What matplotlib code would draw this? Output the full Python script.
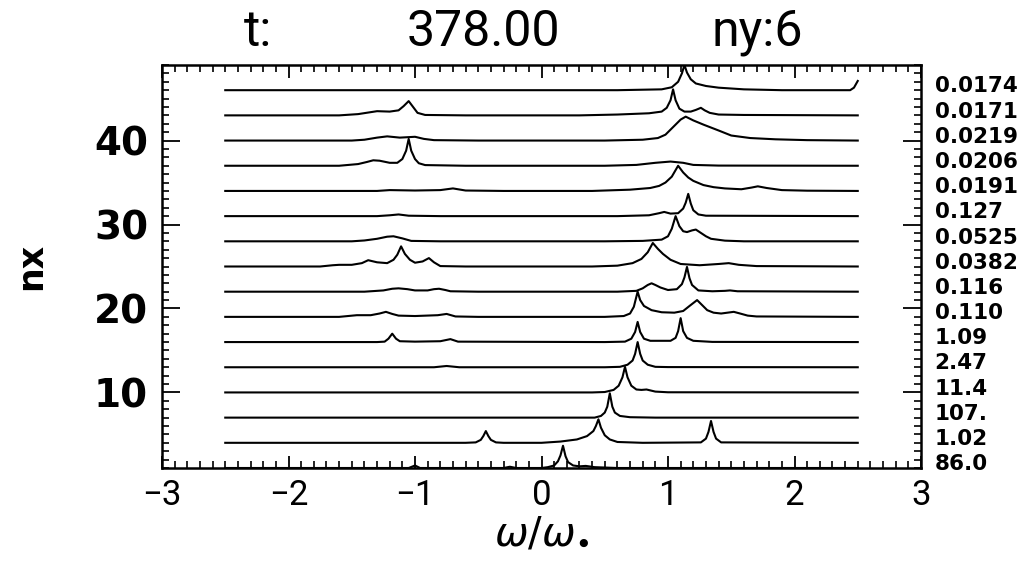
import matplotlib
matplotlib.use("Agg")
import matplotlib.pyplot as plt
from matplotlib.transforms import blended_transform_factory
from matplotlib.ticker import MultipleLocator

# ---------------- data ----------------
# baseline level (nx) of every trace, bottom to top
nx_levels = [1, 4, 7, 10, 13, 16, 19, 22, 25, 28, 31, 34, 37, 40, 43, 46]
# normalisation label printed right of every trace (same order)
trace_labels = ["86.0", "1.02", "107.", "11.4", "2.47", "1.09", "0.110", "0.116",
                "0.0382", "0.0525", "0.127", "0.0191", "0.0206", "0.0219", "0.0171", "0.0174"]

# each trace: (omega/omega0, height above its baseline in nx units)
trace_nx1 = [(-2.5, 0), (-1.05, 0), (-1.0, 0.3), (-0.96, 0), (-0.3, 0), (-0.25, 0.15), (-0.2, 0),
             (0.0, 0), (0.05, 0.1), (0.1, 0.3), (0.13, 0.8), (0.15, 1.5), (0.17, 2.65),
             (0.19, 1.4), (0.21, 0.7), (0.25, 0.3), (0.3, 0.2), (0.35, 0.25), (0.42, 0.1),
             (0.6, 0), (2.5, 0)]
trace_nx4 = [(-2.5, 0), (-0.6, 0), (-0.52, 0.05), (-0.48, 0.35), (-0.46, 0.8), (-0.44, 1.4),
             (-0.42, 0.8), (-0.4, 0.35), (-0.36, 0.05), (-0.3, 0), (0.0, 0), (0.15, 0.15),
             (0.28, 0.4), (0.36, 0.8), (0.41, 1.4), (0.43, 2.0), (0.45, 2.8), (0.47, 1.8),
             (0.5, 0.9), (0.54, 0.4), (0.6, 0.1), (0.8, 0), (1.26, 0.05), (1.3, 0.5),
             (1.32, 1.3), (1.34, 2.6), (1.36, 1.3), (1.38, 0.5), (1.42, 0.05), (2.5, 0)]
trace_nx7 = [(-2.5, 0), (0.42, 0), (0.47, 0.2), (0.5, 0.6), (0.52, 1.3), (0.54, 2.9), (0.56, 1.3),
             (0.58, 0.6), (0.62, 0.2), (0.7, 0.05), (0.9, 0), (2.5, 0)]
trace_nx10 = [(-2.5, 0), (0.4, 0), (0.5, 0.05), (0.57, 0.3), (0.61, 0.8), (0.64, 1.8),
              (0.66, 3.05), (0.68, 1.8), (0.71, 0.8), (0.75, 0.35), (0.79, 0.3), (0.83, 0.35),
              (0.9, 0.1), (1.0, 0.02), (2.5, 0)]
trace_nx13 = [(-2.5, 0), (-0.85, 0), (-0.75, 0.15), (-0.65, 0), (0.5, 0), (0.62, 0.05),
              (0.68, 0.3), (0.72, 0.8), (0.74, 1.6), (0.76, 3.0), (0.78, 1.6), (0.8, 0.8),
              (0.84, 0.3), (0.9, 0.05), (1.0, 0.02), (2.5, 0)]
trace_nx16 = [(-2.5, 0), (-1.3, 0), (-1.24, 0.05), (-1.21, 0.4), (-1.18, 1.0), (-1.15, 0.4),
              (-1.12, 0.1), (-1.0, 0.05), (-0.8, 0.1), (-0.72, 0.35), (-0.66, 0.05), (0.5, 0),
              (0.66, 0.05), (0.71, 0.4), (0.74, 1.2), (0.76, 2.4), (0.78, 1.2), (0.81, 0.4),
              (0.86, 0.15), (1.02, 0.15), (1.06, 0.5), (1.08, 1.3), (1.1, 2.85), (1.12, 1.3),
              (1.15, 0.5), (1.2, 0.15), (1.35, 0.02), (2.5, 0)]
trace_nx19 = [(-2.5, 0), (-1.6, 0), (-1.46, 0.2), (-1.35, 0.2), (-1.28, 0.4), (-1.23, 0.6),
              (-1.18, 0.35), (-1.13, 0.15), (-1.0, 0.1), (-0.82, 0.2), (-0.75, 0.35),
              (-0.68, 0.05), (-0.5, 0), (0.5, 0), (0.65, 0.1), (0.7, 0.4), (0.73, 1.2),
              (0.76, 3.0), (0.78, 2.0), (0.81, 1.3), (0.87, 0.8), (0.95, 0.55), (1.05, 0.5),
              (1.12, 0.7), (1.17, 1.3), (1.23, 2.0), (1.27, 1.4), (1.31, 0.8), (1.36, 0.5),
              (1.42, 0.4), (1.47, 0.5), (1.52, 0.6), (1.57, 0.4), (1.63, 0.15), (1.7, 0.05),
              (2.5, 0)]
trace_nx22 = [(-2.5, 0), (-1.4, 0), (-1.25, 0.15), (-1.18, 0.35), (-1.13, 0.4), (-1.06, 0.3),
              (-1.0, 0.15), (-0.9, 0.15), (-0.85, 0.3), (-0.81, 0.35), (-0.76, 0.2),
              (-0.72, 0.05), (-0.5, 0), (0.6, 0), (0.75, 0.1), (0.8, 0.4), (0.84, 0.8),
              (0.87, 1.0), (0.9, 0.8), (0.94, 0.5), (1.0, 0.2), (1.07, 0.3), (1.11, 0.9),
              (1.13, 1.7), (1.15, 2.95), (1.17, 1.6), (1.19, 0.8), (1.24, 0.15), (1.35, 0.05),
              (1.45, 0.1), (1.49, 0.15), (1.55, 0.05), (2.5, 0)]
trace_nx25 = [(-2.5, 0), (-1.75, 0), (-1.65, 0.15), (-1.6, 0.2), (-1.5, 0.2), (-1.42, 0.4),
              (-1.37, 0.75), (-1.3, 0.5), (-1.22, 0.4), (-1.17, 0.8), (-1.14, 1.4),
              (-1.11, 2.4), (-1.08, 1.5), (-1.04, 0.8), (-1.0, 0.45), (-0.94, 0.6), (-0.89, 1.0),
              (-0.85, 0.5), (-0.8, 0.05), (-0.6, 0), (0.4, 0), (0.6, 0.1), (0.72, 0.4),
              (0.79, 0.9), (0.84, 1.7), (0.88, 2.8), (0.92, 2.1), (0.96, 1.5), (1.02, 0.8),
              (1.1, 0.3), (1.25, 0.15), (1.4, 0.3), (1.48, 0.4), (1.56, 0.2), (1.7, 0.05),
              (2.5, 0)]
trace_nx28 = [(-2.5, 0), (-1.5, 0), (-1.4, 0.1), (-1.3, 0.3), (-1.22, 0.55), (-1.17, 0.6),
              (-1.1, 0.35), (-1.03, 0.05), (-0.8, 0), (0.5, 0), (0.8, 0.05), (0.95, 0.2),
              (1.0, 0.6), (1.03, 1.5), (1.06, 3.0), (1.09, 1.8), (1.12, 1.2), (1.15, 1.1),
              (1.19, 1.3), (1.22, 1.4), (1.26, 1.0), (1.3, 0.6), (1.34, 0.3), (1.45, 0.08),
              (1.6, 0), (2.5, 0)]
trace_nx31 = [(-2.5, 0), (-1.3, 0), (-1.2, 0.1), (-1.13, 0.2), (-1.05, 0.05), (-0.8, 0),
              (0.6, 0), (0.85, 0.1), (0.93, 0.35), (0.97, 0.5), (1.02, 0.3), (1.08, 0.35),
              (1.12, 0.9), (1.14, 1.6), (1.16, 2.65), (1.18, 1.5), (1.2, 0.7), (1.24, 0.2),
              (1.3, 0.05), (2.5, 0)]
trace_nx34 = [(-2.5, 0), (-1.3, 0), (-1.2, 0.1), (-1.0, 0.05), (-0.8, 0.1), (-0.7, 0.3),
              (-0.6, 0.05), (-0.3, 0), (0.4, 0), (0.7, 0.15), (0.86, 0.35), (0.93, 0.6),
              (0.98, 1.0), (1.03, 1.7), (1.08, 3.0), (1.12, 2.2), (1.16, 1.6), (1.2, 1.2),
              (1.28, 0.7), (1.36, 0.45), (1.45, 0.3), (1.58, 0.2), (1.66, 0.4), (1.71, 0.55),
              (1.78, 0.35), (1.9, 0.1), (2.1, 0.03), (2.5, 0)]
trace_nx37 = [(-2.5, 0), (-1.6, 0), (-1.45, 0.2), (-1.38, 0.45), (-1.33, 0.65), (-1.28, 0.6),
              (-1.2, 0.35), (-1.14, 0.35), (-1.1, 0.8), (-1.07, 1.8), (-1.05, 3.2),
              (-1.03, 1.8), (-1.0, 0.8), (-0.97, 0.3), (-0.92, 0.08), (-0.6, 0), (0.5, 0),
              (0.75, 0.1), (0.9, 0.35), (1.02, 0.5), (1.12, 0.35), (1.2, 0.1), (1.4, 0.02),
              (2.5, 0)]
trace_nx40 = [(-2.5, 0), (-1.5, 0), (-1.4, 0.1), (-1.3, 0.35), (-1.22, 0.5), (-1.12, 0.35),
              (-1.0, 0.45), (-0.93, 0.2), (-0.85, 0.05), (-0.5, 0), (0.5, 0), (0.8, 0.1),
              (0.92, 0.3), (0.98, 0.7), (1.04, 1.6), (1.1, 2.5), (1.14, 2.85), (1.2, 2.4),
              (1.28, 1.9), (1.4, 1.2), (1.5, 0.6), (1.65, 0.3), (1.85, 0.15), (2.1, 0.05),
              (2.5, 0)]
trace_nx43 = [(-2.5, 0), (-1.6, 0), (-1.45, 0.15), (-1.3, 0.5), (-1.2, 0.45), (-1.13, 0.6),
              (-1.09, 1.1), (-1.05, 1.7), (-1.02, 1.1), (-0.98, 0.3), (-0.92, 0.05),
              (-0.6, 0), (0.3, 0), (0.6, 0.1), (0.85, 0.25), (0.95, 0.45), (0.99, 0.9),
              (1.02, 1.8), (1.04, 3.1), (1.06, 1.8), (1.09, 0.8), (1.13, 0.45), (1.18, 0.45),
              (1.22, 0.65), (1.26, 0.9), (1.29, 0.6), (1.33, 0.3), (1.4, 0.1), (1.6, 0.05),
              (2.5, 0)]
trace_nx46 = [(-2.5, 0), (0.6, 0), (0.95, 0.1), (1.03, 0.35), (1.08, 1.0), (1.11, 2.0),
              (1.13, 3.0), (1.15, 2.1), (1.18, 1.3), (1.22, 0.8), (1.3, 0.5), (1.4, 0.3),
              (1.6, 0.1), (1.9, 0), (2.44, 0), (2.47, 0.3), (2.5, 1.1)]

traces = [trace_nx1, trace_nx4, trace_nx7, trace_nx10, trace_nx13, trace_nx16, trace_nx19,
          trace_nx22, trace_nx25, trace_nx28, trace_nx31, trace_nx34, trace_nx37, trace_nx40,
          trace_nx43, trace_nx46]

x_ticks = [-3, -2, -1, 0, 1, 2, 3]
y_ticks = [10, 20, 30, 40]
title_t = "t:"
title_time = "378.00"
title_ny = "ny:6"

# ---------------- figure ----------------
W, H = 1028, 576
fig = plt.figure(figsize=(W / 100, H / 100), dpi=100)
fig.patch.set_facecolor("white")
L, R, T, B = 162, 921, 65, 468
ax = fig.add_axes([L / W, 1 - B / H, (R - L) / W, (B - T) / H])

for level, tr in zip(nx_levels, traces):
    xs = [p[0] for p in tr]
    ys = [level + p[1] for p in tr]
    ax.plot(xs, ys, color="black", lw=1.5, solid_joinstyle="round", clip_on=True)

ax.set_xlim(-3, 3)
ax.set_ylim(1, 49)
ax.set_xticks(x_ticks)
ax.set_yticks(y_ticks)
ax.xaxis.set_minor_locator(MultipleLocator(0.1))
ax.yaxis.set_minor_locator(MultipleLocator(1))
ax.tick_params(which="both", direction="in", top=True, right=True, color="black")
ax.tick_params(axis="x", which="major", length=9, width=1.3, labelsize=25, pad=8)
ax.tick_params(axis="x", which="minor", length=5, width=1.2)
ax.tick_params(axis="y", which="major", length=13, width=1.3, labelsize=28, pad=10)
ax.tick_params(axis="y", which="minor", length=5, width=1.2)
for lab in ax.get_yticklabels():
    lab.set_fontweight("bold")
for lab in ax.get_xticklabels():
    lab.set_family(["Roboto", "DejaVu Sans"])
    lab.set_fontweight("normal")
for sp in ax.spines.values():
    sp.set_linewidth(1.8)

ax.set_xlabel(r"$\omega/\omega_{\bullet}$", fontsize=29, labelpad=0)
ax.set_ylabel("nx", fontsize=25, fontweight="bold", labelpad=33)

trans = blended_transform_factory(ax.transAxes, ax.transData)
for level, lab in zip(nx_levels, trace_labels):
    ax.text(1.018, level + 0.45, lab, transform=trans, ha="left", va="center",
            fontsize=15.5, fontweight="bold", clip_on=False)

for xc, txt in [(258, title_t), (483, title_time), (757, title_ny)]:
    fig.text(xc / W, 1 - 32 / H, txt, ha="center", va="center", fontsize=36,
             family=["Roboto", "DejaVu Sans"], fontweight="normal")

fig.savefig("out.png", dpi=100, facecolor="white")
